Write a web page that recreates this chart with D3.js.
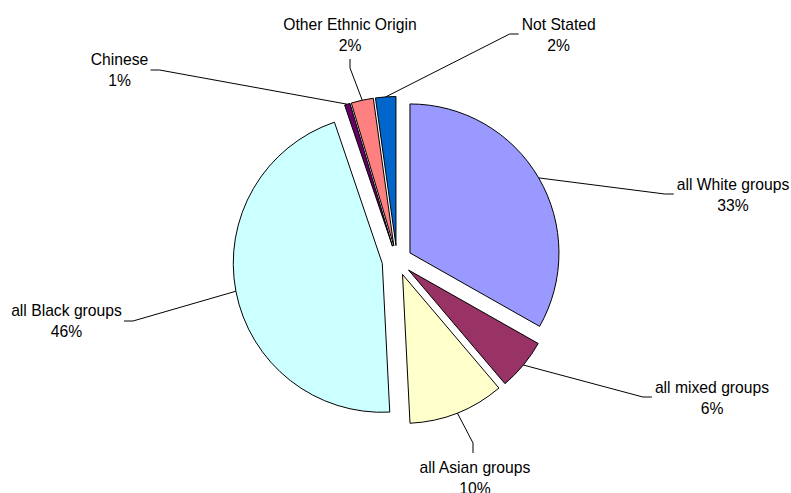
<!DOCTYPE html>
<html>
<head>
<meta charset="utf-8">
<script src="https://cdn.jsdelivr.net/npm/d3@7/dist/d3.min.js"></script>
<style>
  html, body { margin: 0; padding: 0; background: #fff; }
  svg { display: block; }
  text { font-family: "Liberation Sans", Arial, sans-serif; font-size: 15.7px; fill: #000; }
</style>
</head>
<body>
<svg id="chart" width="791" height="493"></svg>
<script>
// ---- data ----
const categories = ["all White groups", "all mixed groups", "all Asian groups", "all Black groups", "Chinese", "Other Ethnic Origin", "Not Stated"];
const values = [33.2, 5.6, 10.4, 45.6, 0.6, 2.4, 2.2];
const colors = ["#9999FF", "#993366", "#FFFFCC", "#CCFFFF", "#660066", "#FF8080", "#0066CC"];

// ---- layout (label placement, not data) ----
const labelLayout = [
  { cx: 733, y1: 190, side: "left" },
  { cx: 712, y1: 393, side: "left" },
  { cx: 475, y1: 473, side: "top" },
  { cx: 66.5, y1: 316, side: "right" },
  { cx: 119.5, y1: 65, side: "right" },
  { cx: 350, y1: 30, side: "bottom" },
  { cx: 558.7, y1: 30, side: "left" }
];

const W = 791, H = 493;
const center = [397, 260.5];
const radius = 149;
const explode = 15;
const lineGap = 20.5;

const svg = d3.select("#chart");
svg.append("rect").attr("width", W).attr("height", H).attr("fill", "#fff");

const data = categories.map((c, i) => ({ name: c, value: values[i], color: colors[i], layout: labelLayout[i] }));
const total = d3.sum(values);

const pie = d3.pie().value(d => d.value).sort(null);
const arcs = pie(data);
const arc = d3.arc().innerRadius(0).outerRadius(radius);

const g = svg.append("g").attr("transform", `translate(${center[0]},${center[1]})`);

function offsetFor(a) {
  const mid = (a.startAngle + a.endAngle) / 2;
  return [explode * Math.sin(mid), -explode * Math.cos(mid)];
}

g.selectAll("path.slice")
  .data(arcs)
  .join("path")
  .attr("class", "slice")
  .attr("transform", d => { const o = offsetFor(d); return `translate(${o[0]},${o[1]})`; })
  .attr("d", arc)
  .attr("fill", d => d.data.color)
  .attr("stroke", "#000")
  .attr("stroke-width", 1)
  .attr("stroke-linejoin", "round");

// labels
const labelG = svg.append("g");
arcs.forEach(a => {
  const L = a.data.layout;
  const t = labelG.append("text").attr("text-anchor", "middle");
  t.append("tspan").attr("x", L.cx).attr("y", L.y1).text(a.data.name);
  const pct = Math.round(a.data.value / total * 100) + "%";
  t.append("tspan").attr("x", L.cx).attr("y", L.y1 + lineGap).text(pct);
  const bb = t.node().getBBox();

  // leader start: middle of outer arc of exploded slice
  const mid = (a.startAngle + a.endAngle) / 2;
  const o = offsetFor(a);
  const sx = center[0] + o[0] + radius * Math.sin(mid);
  const sy = center[1] + o[1] - radius * Math.cos(mid);

  let end, elbow;
  if (L.side === "left") {
    end = [bb.x - 3, L.y1 + 4];
    elbow = [end[0] - 9, end[1]];
  } else if (L.side === "right") {
    end = [bb.x + bb.width + 2, L.y1 + 5];
    elbow = [end[0] + 9, end[1]];
  } else if (L.side === "top") {
    end = [L.cx - 2, L.y1 - 20];
    elbow = [end[0], end[1] - 10];
  } else {
    end = [L.cx, L.y1 + lineGap + 8.5];
    elbow = [end[0], end[1] + 9];
  }
  labelG.append("path")
    .attr("d", d3.line()([[sx, sy], elbow, end]))
    .attr("fill", "none")
    .attr("stroke", "#000")
    .attr("stroke-width", 1);
});
</script>
</body>
</html>
